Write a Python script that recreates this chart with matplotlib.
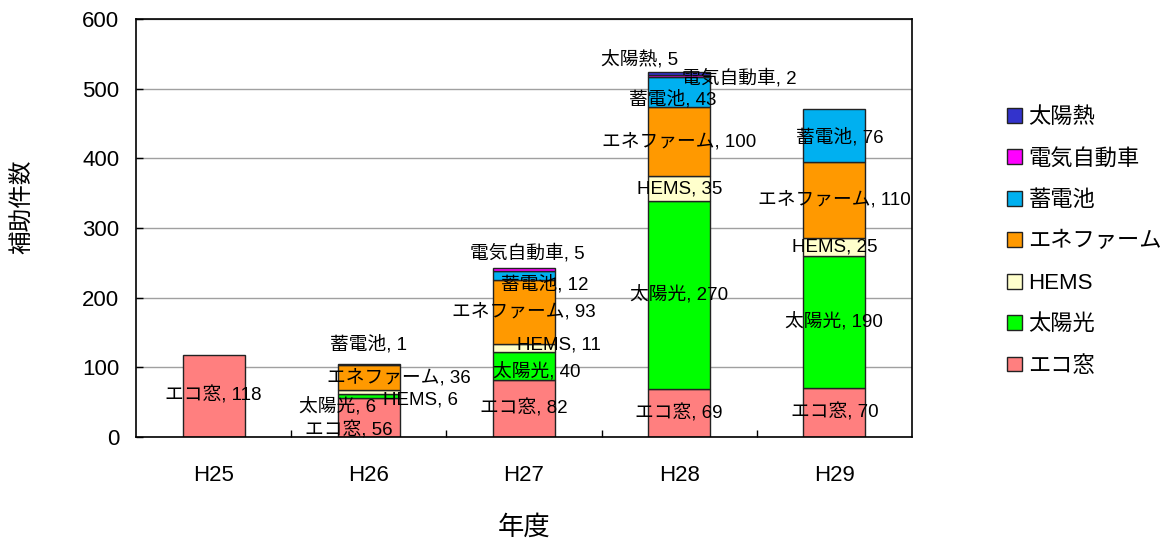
import matplotlib
matplotlib.use('Agg')
import matplotlib.pyplot as plt
from matplotlib.patches import Patch
from matplotlib.ticker import FixedLocator, NullFormatter

plt.rcParams['font.family'] = ['Liberation Sans', 'Noto Sans CJK JP']

years = ['H25', 'H26', 'H27', 'H28', 'H29']
series_names = ['エコ窓', '太陽光', 'HEMS', 'エネファーム', '蓄電池', '電気自動車', '太陽熱']
eco_window = [118, 56, 82, 69, 70]
solar_pv = [None, 6, 40, 270, 190]
hems = [None, 6, 11, 35, 25]
enefarm = [None, 36, 93, 100, 110]
battery = [None, 1, 12, 43, 76]
ev = [None, None, 5, 2, None]
solar_thermal = [None, None, None, 5, None]
y_ticks = [0, 100, 200, 300, 400, 500, 600]

series_values = [eco_window, solar_pv, hems, enefarm, battery, ev, solar_thermal]
colors = ['#FF7F7F', '#00FF00', '#FFFFCC', '#FF9900', '#00B0F0', '#FF00FF', '#3333CC']

# manual label displacement (pixels: dx right, dy down) as in the original
label_offsets = {
    ('エコ窓', 'H26'): (-20, 13),
    ('太陽光', 'H26'): (-31, 11),
    ('HEMS', 'H26'): (52, 8),
    ('エネファーム', 'H26'): (30, 1),
    ('蓄電池', 'H26'): (0, -20),
    ('太陽光', 'H27'): (13, 6),
    ('HEMS', 'H27'): (35, -3),
    ('蓄電池', 'H27'): (21, 9),
    ('電気自動車', 'H27'): (3, -16),
    ('蓄電池', 'H28'): (-7, 7),
    ('電気自動車', 'H28'): (60, 2),
    ('太陽熱', 'H28'): (-40, -13),
    ('蓄電池', 'H29'): (5, 2),
}

fig = plt.figure(figsize=(11.68, 5.43), dpi=100)
ax = fig.add_axes([136 / 1168, 1 - 437 / 543, 776 / 1168, 418 / 543])

x = list(range(len(years)))
bottoms = [0.0] * len(years)
for name, vals, col in zip(series_names, series_values, colors):
    for i, v in enumerate(vals):
        if v is None:
            continue
        ax.bar(i, v, bottom=bottoms[i], width=0.4, color=col,
               edgecolor='#222222', linewidth=1.0, zorder=2)
        dx, dy = label_offsets.get((name, years[i]), (0, 0))
        ax.annotate(f'{name}, {v}', xy=(i, bottoms[i] + v / 2),
                    xytext=(dx, -dy), textcoords='offset pixels',
                    ha='center', va='center', fontsize=13.5, color='black',
                    zorder=4)
        bottoms[i] += v

ax.set_xlim(-0.5, len(years) - 0.5)
ax.set_ylim(0, 600)
ax.set_yticks(y_ticks)
ax.yaxis.grid(True, color='#A0A0A0', linewidth=1.0, zorder=0)
ax.set_axisbelow(True)
ax.set_xticks(x)
ax.set_xticklabels(years)
ax.xaxis.set_minor_locator(FixedLocator([i + 0.5 for i in range(len(years) - 1)]))
ax.xaxis.set_minor_formatter(NullFormatter())
ax.tick_params(axis='x', which='major', length=0, pad=20, labelsize=16)
ax.tick_params(axis='x', which='minor', direction='in', length=5, width=1)
ax.tick_params(axis='y', direction='in', length=5, width=1, pad=12, labelsize=16)
for sp in ax.spines.values():
    sp.set_color('black')
    sp.set_linewidth(1.2)

ax.set_ylabel('補助件数', fontsize=17)
ax.yaxis.set_label_coords((34 - 136) / 776, 0.55)
ax.set_xlabel('年度', fontsize=19)
ax.xaxis.label.set_va('center')
ax.xaxis.set_label_coords(0.5, -(527 - 437) / 418)

handles = [Patch(facecolor=c, edgecolor='#222222', linewidth=1.0) for c in colors]
leg = fig.legend(handles[::-1], series_names[::-1], loc='center left',
                 bbox_to_anchor=(996 / 1168, 1 - 242 / 543), frameon=False,
                 fontsize=16, handlelength=0.65, handleheight=0.65,
                 handletextpad=0.3, labelspacing=0.92, borderpad=0)

fig.savefig('out.png', dpi=100)
